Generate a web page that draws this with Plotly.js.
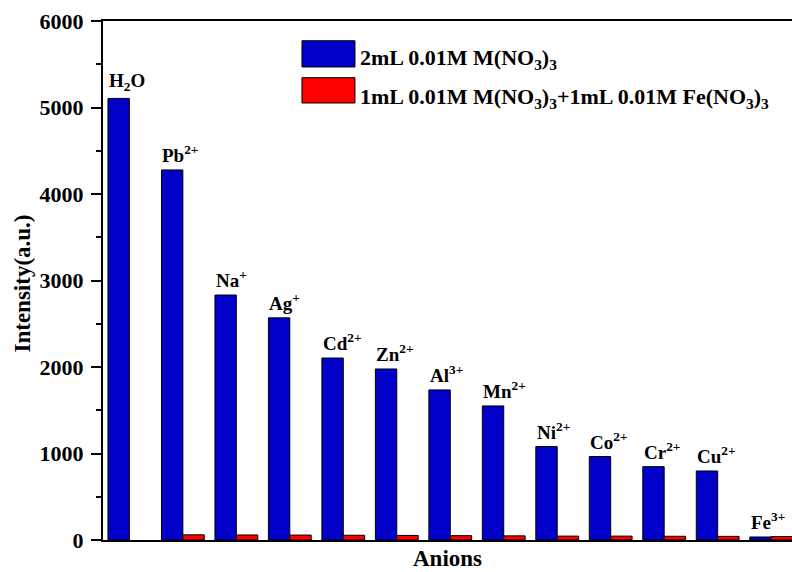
<!DOCTYPE html>
<html>
<head>
<meta charset="utf-8">
<script src="https://cdn.plot.ly/plotly-3.0.1.min.js"></script>
<style>html,body{margin:0;padding:0;background:#fff;}#chart{width:792px;height:572px;}</style>
</head>
<body>
<div id="chart"></div>
<script>
// Data
const categories = ['H2O','Pb2+','Na+','Ag+','Cd2+','Zn2+','Al3+','Mn2+','Ni2+','Co2+','Cr2+','Cu2+','Fe3+'];
const barLabels = ['H<sub>2</sub>O','Pb<sup>2+</sup>','Na<sup>+</sup>','Ag<sup>+</sup>','Cd<sup>2+</sup>','Zn<sup>2+</sup>','Al<sup>3+</sup>','Mn<sup>2+</sup>','Ni<sup>2+</sup>','Co<sup>2+</sup>','Cr<sup>2+</sup>','Cu<sup>2+</sup>','Fe<sup>3+</sup>'];
const seriesA = [5105, 4278, 2832, 2568, 2104, 1977, 1735, 1550, 1080, 965, 848, 798, 35];
const seriesB = [null, 60, 58, 57, 55, 53, 50, 48, 45, 45, 43, 42, 40];
const nameA = '2mL 0.01M M(NO<sub>3</sub>)<sub>3</sub>';
const nameB = '1mL 0.01M M(NO<sub>3</sub>)<sub>3</sub>+1mL 0.01M Fe(NO<sub>3</sub>)<sub>3</sub>';
const yTicks = [0, 1000, 2000, 3000, 4000, 5000, 6000];

const FONT = 'Liberation Serif, Times New Roman, serif';

const traces = [
  {type:'bar', x:categories, y:seriesA, name:nameA,
   marker:{color:'#0000c8', line:{color:'#000', width:1}}},
  {type:'bar', x:categories, y:seriesB, name:nameB,
   marker:{color:'#ff0000', line:{color:'#000', width:1}}}
];

const annotations = categories.map((c,i)=>({
  x: i - 0.42, y: seriesA[i], xref:'x', yref:'y',
  xanchor:'left', yanchor:'bottom', yshift:2,
  text: barLabels[i], showarrow:false,
  font:{family:FONT, size:19, color:'#000', weight:'bold'}
}));

// legend (drawn manually for large swatches)
annotations.push(
  {xref:'paper', yref:'paper', x:0.370, y:0.926, xanchor:'left', yanchor:'middle', text:nameA, showarrow:false,
   font:{family:FONT, size:22, color:'#000', weight:'bold'}},
  {xref:'paper', yref:'paper', x:0.370, y:0.852, xanchor:'left', yanchor:'middle', text:nameB, showarrow:false,
   font:{family:FONT, size:22, color:'#000', weight:'bold'}},
  {xref:'paper', yref:'paper', x:0.5, y:-0.036, xanchor:'center', yanchor:'middle', text:'Anions', showarrow:false,
   font:{family:FONT, size:23, color:'#000', weight:'bold'}},
  {xref:'paper', yref:'paper', x:0, xshift:-81, y:0.5, yshift:-3, xanchor:'center', yanchor:'middle', text:'Intensity(a.u.)', textangle:-90, showarrow:false,
   font:{family:FONT, size:23, color:'#000', weight:'bold'}}
);

const shapes = [
  {type:'rect', xref:'paper', yref:'paper', x0:0.2888, x1:0.3657, y0:0.9114, y1:0.962,
   fillcolor:'#0000c8', line:{color:'#000', width:1}},
  {type:'rect', xref:'paper', yref:'paper', x0:0.2888, x1:0.3657, y0:0.842, y1:0.8908,
   fillcolor:'#ff0000', line:{color:'#000', width:1}}
];

const layout = {
  width:792, height:572,
  margin:{l:103, r:0, t:21, b:32, pad:0},
  paper_bgcolor:'#fff', plot_bgcolor:'#fff',
  font:{family:FONT, color:'#000', weight:'bold'},
  barmode:'group', bargap:0.2, bargroupgap:0,
  showlegend:false,
  xaxis:{type:'category', range:[-0.493, 12.39], showline:true, linewidth:2, linecolor:'#000',
         mirror:true, ticks:'', showticklabels:false, showgrid:false, zeroline:false},
  yaxis:{range:[0,6000], tickvals:yTicks, ticks:'outside', ticklen:10, tickwidth:2, tickcolor:'#000',
         showline:true, linewidth:2, linecolor:'#000', showgrid:false, zeroline:false,
         tickfont:{family:FONT, size:22, color:'#000', weight:'bold'}, ticklabelstandoff:3,
         minor:{dtick:500, ticks:'outside', ticklen:5, tickwidth:2, tickcolor:'#000', showgrid:false}},
  annotations:annotations, shapes:shapes
};

Plotly.newPlot('chart', traces, layout, {displayModeBar:false, staticPlot:true});
</script>
</body>
</html>
